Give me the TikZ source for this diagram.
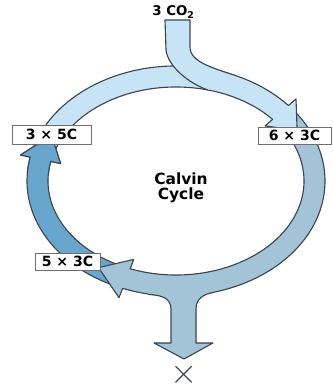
\documentclass[tikz,border=0pt]{standalone}
\usepackage{fontspec}
\setsansfont{DejaVu Sans}
\usetikzlibrary{calc}
\definecolor{cyclelight}{HTML}{C6E4F5}
\definecolor{cyclegray}{HTML}{A3C3D7}
\definecolor{cycledark}{HTML}{68A6CE}
\definecolor{edgegray}{HTML}{3C4650}
\definecolor{boxgray}{HTML}{6E6E6E}

\begin{document}
\begin{tikzpicture}[x=0.025cm,y=0.025cm,
  ring/.style={draw=edgegray,line width=0.8pt,line join=round},
  countbox/.style={draw=boxgray,fill=white,line width=0.6pt,inner sep=0pt,
    font=\sffamily\bfseries\fontsize{10}{12}\selectfont}]
  \useasboundingbox (0,0) rectangle (333,387);
  \coordinate (C) at (176,206);
  % dark segment (5x3C -> 3x5C)
  \filldraw[ring,fill=cycledark] ($(C)+(245:149 and 115)$) arc[start angle=245,end angle=168,x radius=149,y radius=115]
    -- ($(C)+(168:159 and 125)$) -- ($(C)+(154:138.5 and 104.5)$) -- ($(C)+(168:118 and 84)$) -- ($(C)+(168:128 and 94)$)
    arc[start angle=168,end angle=245,x radius=128,y radius=94] -- cycle;
  % gray segment (6x3C -> 5x3C)
  \filldraw[ring,fill=cyclegray] ($(C)+(41:149 and 115)$) arc[start angle=41,end angle=-111,x radius=149,y radius=115]
    -- ($(C)+(-111:159 and 125)$) -- ($(C)+(-124:138.5 and 104.5)$) -- ($(C)+(-111:118 and 84)$) -- ($(C)+(-111:128 and 94)$)
    arc[start angle=-111,end angle=41,x radius=128,y radius=94] -- cycle;
  \fill[cyclegray] (148,92.6) .. controls (163,92) and (171,88) .. (171,78) -- (171,44) -- (154,44) -- (184,28)
    -- (213,44) -- (196,44) -- (196,78) .. controls (196,88) and (203,92.7) .. (214,94.8) -- (214,104) -- (148,104) -- cycle;
  \draw[ring] (148,92.6) .. controls (163,92) and (171,88) .. (171,78) -- (171,44) -- (154,44) -- (184,28)
    -- (213,44) -- (196,44) -- (196,78) .. controls (196,88) and (203,92.7) .. (214,94.8);
  % light segment (3x5C -> 6x3C) and CO2 input
  \filldraw[ring,fill=cyclelight] ($(C)+(163:149 and 115)$) arc[start angle=163,end angle=41,x radius=149,y radius=115]
    -- ($(C)+(41:159 and 125)$) -- ($(C)+(29:138.5 and 104.5)$) -- ($(C)+(41:118 and 84)$) -- ($(C)+(41:128 and 94)$)
    arc[start angle=41,end angle=163,x radius=128,y radius=94] -- cycle;
  \fill[cyclelight] (165,367) -- (166,337) .. controls (168,320) and (190,303) .. (208,297) -- (235,311.6)
    .. controls (213,319) and (190,325) .. (190,340) -- (190,367) -- cycle;
  \draw[ring] (208,297) .. controls (190,303) and (168,320) .. (166,337) -- (165,367) -- (190,367) -- (190,340)
    .. controls (190,325) and (213,319) .. (235,311.6);
  % dark arrowhead again, over the light tail
  \fill[cycledark] ($(C)+(176:149 and 115)$) arc[start angle=176,end angle=168,x radius=149,y radius=115]
    -- ($(C)+(168:159 and 125)$) -- ($(C)+(154:138.5 and 104.5)$) -- ($(C)+(168:118 and 84)$) -- ($(C)+(168:128 and 94)$)
    arc[start angle=168,end angle=176,x radius=128,y radius=94] -- cycle;
  \draw[ring] ($(C)+(176:149 and 115)$) arc[start angle=176,end angle=168,x radius=149,y radius=115]
    -- ($(C)+(168:159 and 125)$) -- ($(C)+(154:138.5 and 104.5)$) -- ($(C)+(168:118 and 84)$) -- ($(C)+(168:128 and 94)$)
    arc[start angle=168,end angle=176,x radius=128,y radius=94];
  % labels
  \node[countbox,minimum width=1.975cm,minimum height=0.475cm] (fiveC) at (51.5,252.5) {3 × 5C};
  \node[countbox,minimum width=1.825cm,minimum height=0.425cm] (sixthreeC) at (294.5,251.5) {6 × 3C};
  \node[countbox,minimum width=1.625cm,minimum height=0.425cm] (fivethreeC) at (67.5,125.5) {5 × 3C};
  \node[font=\sffamily\bfseries\fontsize{9.5}{11}\selectfont] (co2) at (173.5,375) {3 CO\textsubscript{2}};
  \node[font=\sffamily\bfseries\fontsize{11}{10.5}\selectfont,align=center] (cycle) at (181,199) {Calvin\\Cycle};
  \node[font=\fontsize{26}{26}\selectfont,text=edgegray,inner sep=0pt] (xout) at (184.5,12) {$\times$};
\end{tikzpicture}
\end{document}
